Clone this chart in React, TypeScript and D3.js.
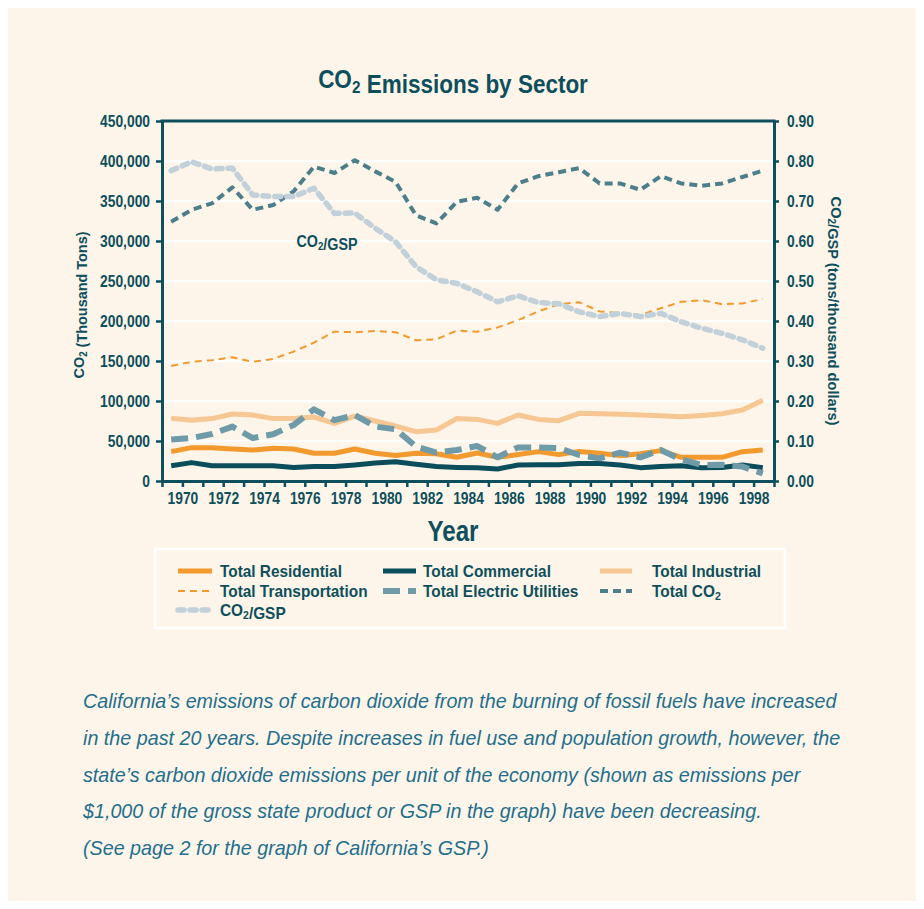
// App.tsx
import React, { useEffect, useRef } from 'react';
import * as d3 from 'd3';

const years = [
  1969, 1970, 1971, 1972, 1973, 1974, 1975, 1976, 1977, 1978,
  1979, 1980, 1981, 1982, 1983, 1984, 1985, 1986, 1987, 1988,
  1989, 1990, 1991, 1992, 1993, 1994, 1995, 1996, 1997, 1998,
];

// thousand tons
const residential = [
  36700, 41700, 41700, 40000, 38700, 41000, 40000, 34600, 34600, 40000,
  34600, 32000, 34600, 34000, 29600, 35000, 29600, 33000, 36700, 33000,
  37000, 34600, 31700, 34000, 38000, 29600, 29600, 29600, 36700, 38700,
];
const commercial = [
  19000, 23000, 19000, 19000, 19000, 19000, 17000, 18000, 18000, 20000,
  22500, 24000, 21000, 18000, 17000, 16500, 15000, 20000, 20400, 20400,
  22000, 22000, 20000, 16700, 18000, 19000, 16700, 17000, 20000, 16700,
];
const industrial = [
  78300, 76000, 78000, 83700, 82500, 78000, 78000, 80000, 72000, 81000,
  75000, 68700, 61700, 63700, 78000, 77000, 72000, 82500, 77000, 75400,
  84600, 84000, 83500, 82500, 81700, 80400, 82000, 84000, 88700, 101000,
];
const transportation = [
  143800, 149000, 151000, 154600, 149000, 152500, 161700, 173000, 186700, 186000,
  187500, 186000, 176000, 177000, 188000, 186500, 192000, 201000, 212000, 221000,
  223500, 212000, 210000, 207500, 216000, 224000, 226000, 221000, 222000, 227500,
];
const electric = [
  52000, 53700, 58700, 68000, 53700, 58500, 70000, 89600, 76000, 82500,
  68000, 64600, 43000, 35400, 38700, 43700, 29600, 42000, 42000, 41000,
  32500, 28300, 35400, 29600, 38700, 27000, 20000, 20400, 18000, 9600,
];
const totalCO2 = [
  324000, 339000, 347000, 367000, 339000, 345000, 362000, 393000, 385000, 401000,
  387000, 374000, 332000, 322000, 349000, 354000, 339000, 372000, 381000, 386000,
  391000, 372000, 372000, 364000, 381000, 372000, 369000, 372000, 380000, 388000,
];
// tons per thousand dollars of GSP (right axis)
const co2PerGsp = [
  0.776, 0.798, 0.78, 0.782, 0.715, 0.711, 0.711, 0.732, 0.669, 0.67,
  0.632, 0.598, 0.536, 0.503, 0.494, 0.473, 0.448, 0.463, 0.446, 0.443,
  0.423, 0.411, 0.419, 0.411, 0.419, 0.398, 0.382, 0.369, 0.353, 0.332,
];

const leftTicks = [0, 50000, 100000, 150000, 200000, 250000, 300000, 350000, 400000, 450000];
const rightTicks = [0, 0.1, 0.2, 0.3, 0.4, 0.5, 0.6, 0.7, 0.8, 0.9];
const yearLabels = [1970, 1972, 1974, 1976, 1978, 1980, 1982, 1984, 1986, 1988, 1990, 1992, 1994, 1996, 1998];

const caption = [
  'California\u2019s emissions of carbon dioxide from the burning of fossil fuels have increased',
  'in the past 20 years. Despite increases in fuel use and population growth, however, the',
  'state\u2019s carbon dioxide emissions per unit of the economy (shown as emissions per',
  '$1,000 of the gross state product or GSP in the graph) have been decreasing.',
  '(See page 2 for the graph of California\u2019s GSP.)',
];

// the original is set in a condensed grotesque; we squeeze Liberation Sans to the same widths
const FONT = "'Liberation Sans', Arial, sans-serif";
const DARK = '#0d4f5c';
const BG = '#fdf5e9';

const series = [
  { name: 'Total Transportation', values: transportation, axis: 'left', color: '#f39a2e', width: 2, dash: '7,5', cap: 'butt' },
  { name: 'Total Industrial', values: industrial, axis: 'left', color: '#f6c693', width: 5, dash: null, cap: 'butt' },
  { name: 'Total Residential', values: residential, axis: 'left', color: '#f39a2e', width: 5, dash: null, cap: 'butt' },
  { name: 'Total Commercial', values: commercial, axis: 'left', color: '#0b4d5a', width: 5, dash: null, cap: 'butt' },
  { name: 'Total Electric Utilities', values: electric, axis: 'left', color: '#6f9aa8', width: 6, dash: '17,8', cap: 'butt' },
  { name: 'Total CO2', values: totalCO2, axis: 'left', color: '#4c7e8b', width: 4, dash: '8,5', cap: 'butt' },
  { name: 'CO2/GSP', values: co2PerGsp, axis: 'right', color: '#c2d0da', width: 5.5, dash: '6,6', cap: 'round' },
];

// legend layout: [series name, column, row]
const legendOrder: [string, number, number][] = [
  ['Total Residential', 0, 0],
  ['Total Commercial', 1, 0],
  ['Total Industrial', 2, 0],
  ['Total Transportation', 0, 1],
  ['Total Electric Utilities', 1, 1],
  ['Total CO2', 2, 1],
  ['CO2/GSP', 0, 2],
];

// write "CO2" with a subscript 2
const withSub = (sel: any, text: string) => {
  const parts = text.split('CO2');
  parts.forEach((p, i) => {
    if (i > 0) {
      sel.append('tspan').text('CO');
      sel.append('tspan').attr('font-size', '0.68em').attr('dy', '0.28em').text('2');
      sel.append('tspan').attr('dy', '-0.19em').text('');
    }
    if (p) sel.append('tspan').text(p);
  });
};

// horizontal squeeze so a text ends up `target` px wide
const squeezeTo = (text: any, target: number) => {
  const w = (text.node() as SVGTextElement).getComputedTextLength();
  const k = w > 0 ? target / w : 1;
  text.attr('transform', `scale(${k},1)`);
  return k;
};

const App = () => {
  const ref = useRef<SVGSVGElement>(null);
  const width = 908;
  const height = 893;
  const plot = { left: 154, right: 766, top: 113, bottom: 473 };

  useEffect(() => {
    if (!ref.current) return;
    const svg = d3.select(ref.current);
    svg.selectAll('*').remove();

    svg.append('rect').attr('width', width).attr('height', height).attr('fill', BG);

    const x = d3.scaleLinear().domain([1969, 1999]).range([plot.left, plot.right]);
    const yL = d3.scaleLinear().domain([0, 450000]).range([plot.bottom, plot.top]);
    const yR = d3.scaleLinear().domain([0, 0.9]).range([plot.bottom, plot.top]);
    // points sit a little past the year tick, like the original
    const px = (i: number) => x(years[i] + 0.45);

    const label = (tx: number, ty: number, rot: number, size: number, anchor: string, content: string, target: number) => {
      const g = svg.append('g').attr('transform', `translate(${tx},${ty}) rotate(${rot})`);
      const t = g.append('text')
        .attr('text-anchor', anchor)
        .attr('font-family', FONT).attr('font-weight', 'bold').attr('font-size', size)
        .attr('fill', DARK);
      withSub(t, content);
      squeezeTo(t, target);
      return t;
    };

    // title
    label(445, 80, 0, 25, 'middle', 'CO2 Emissions by Sector', 270);

    // white grid lines
    svg.append('g')
      .selectAll('line')
      .data(leftTicks.filter(t => t > 0 && t < 450000))
      .join('line')
      .attr('x1', plot.left).attr('x2', plot.right)
      .attr('y1', d => yL(d)).attr('y2', d => yL(d))
      .attr('stroke', '#ffffff').attr('stroke-width', 2.5);

    // series
    series.forEach(s => {
      const yScale = s.axis === 'left' ? yL : yR;
      const line = d3.line<number>()
        .x((d, i) => px(i))
        .y(d => yScale(d));
      const path = svg.append('path')
        .datum(s.values)
        .attr('d', line)
        .attr('fill', 'none')
        .attr('stroke', s.color)
        .attr('stroke-width', s.width)
        .attr('stroke-linejoin', 'round')
        .attr('stroke-linecap', s.cap);
      if (s.dash) path.attr('stroke-dasharray', s.dash);
    });

    // axes
    let tickK = 1;
    const styleAxis = (g: any) => {
      g.select('.domain').attr('stroke', DARK).attr('stroke-width', 3);
      g.selectAll('.tick line').attr('stroke', DARK).attr('stroke-width', 2.5);
      g.selectAll('.tick text')
        .attr('font-family', FONT).attr('font-weight', 'bold')
        .attr('font-size', 16).attr('fill', DARK);
    };
    const squeezeTicks = (g: any) => {
      g.selectAll('.tick text').each(function (this: any) {
        const t = d3.select(this);
        const x0 = t.attr('x');
        if (x0 !== null) t.attr('x', +x0 / tickK);
        t.attr('transform', `scale(${tickK},1)`);
      });
    };

    const leftAxis = svg.append('g')
      .attr('transform', `translate(${plot.left},0)`)
      .call(d3.axisLeft(yL).tickValues(leftTicks).tickSize(6).tickSizeOuter(0).tickPadding(6)
        .tickFormat((d: any) => d3.format(',')(d)))
      .call(styleAxis);
    // "450,000" is 50px wide in the original
    const top = leftAxis.selectAll('.tick text').filter((d: any) => d === 450000);
    tickK = 50 / (top.node() as SVGTextElement).getComputedTextLength();
    leftAxis.call(squeezeTicks);

    svg.append('g')
      .attr('transform', `translate(${plot.right},0)`)
      .call(d3.axisRight(yR).tickValues(rightTicks).tickSize(5).tickSizeOuter(0).tickPadding(8)
        .tickFormat((d: any) => d3.format('.2f')(d)))
      .call(styleAxis)
      .call(squeezeTicks);

    svg.append('g')
      .attr('transform', `translate(0,${plot.bottom})`)
      .call(d3.axisBottom(x).tickValues(d3.range(1969, 2000)).tickSize(6).tickSizeOuter(0).tickPadding(6)
        .tickFormat((d: any) => (yearLabels.includes(d) ? String(d) : '')))
      .call(styleAxis)
      .call(squeezeTicks);

    // top frame
    svg.append('line')
      .attr('x1', plot.left - 1.5).attr('x2', plot.right + 1.5)
      .attr('y1', plot.top).attr('y2', plot.top)
      .attr('stroke', DARK).attr('stroke-width', 3);

    // axis titles
    label(445, 533, 0, 29, 'middle', 'Year', 51);
    label(76, (plot.top + plot.bottom) / 2 + 4, -90, 15.5, 'middle', 'CO2 (Thousand Tons)', 147);
    label(823, (plot.top + plot.bottom) / 2 + 10, 90, 15.5, 'middle', 'CO2/GSP (tons/thousand dollars)', 229);

    // in-plot label
    label(319, 239, 0, 17, 'middle', 'CO2/GSP', 61);

    // legend
    svg.append('rect')
      .attr('x', 147).attr('y', 541).attr('width', 630).attr('height', 79)
      .attr('fill', 'none').attr('stroke', '#ffffff').attr('stroke-width', 2.5);

    const colSwatch = [[170, 204], [375, 408], [592, 624]];
    const colText = [212, 415, 644];
    const rowY = [563, 583, 602];

    let legendK = 0;
    legendOrder.forEach(([name, col, row]) => {
      const s = series.find(d => d.name === name)!;
      const sw = svg.append('line')
        .attr('x1', colSwatch[col][0]).attr('x2', colSwatch[col][1])
        .attr('y1', rowY[row]).attr('y2', rowY[row])
        .attr('stroke', s.color)
        .attr('stroke-width', s.width)
        .attr('stroke-linecap', s.cap);
      if (s.dash) sw.attr('stroke-dasharray', s.dash);
      const g = svg.append('g').attr('transform', `translate(${colText[col]},${rowY[row] + 6})`);
      const t = g.append('text')
        .attr('font-family', FONT).attr('font-weight', 'bold').attr('font-size', 16)
        .attr('fill', DARK);
      withSub(t, name);
      // "Total Residential" is 122px wide in the original; same squeeze for all entries
      if (!legendK) legendK = squeezeTo(t, 122);
      else t.attr('transform', `scale(${legendK},1)`);
    });

    // caption
    let capK = 0;
    caption.forEach((line, i) => {
      const g = svg.append('g').attr('transform', `translate(75,${700 + i * 36.8})`);
      const t = g.append('text')
        .attr('font-family', FONT).attr('font-style', 'italic').attr('font-size', 21)
        .attr('fill', '#1f6f8d')
        .text(line);
      if (!capK) capK = squeezeTo(t, 754);
      else t.attr('transform', `scale(${capK},1)`);
    });
  }, []);

  return (
    <svg ref={ref} width={width} height={height} style={{ display: 'block' }} />
  );
};

export default App;
